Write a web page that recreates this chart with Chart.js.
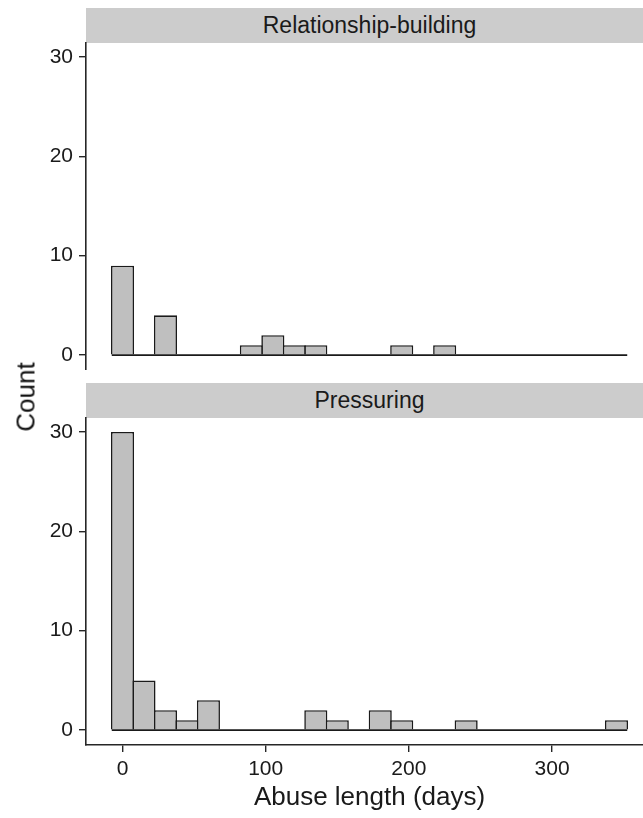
<!DOCTYPE html>
<html>
<head>
<meta charset="utf-8">
<script src="https://cdn.jsdelivr.net/npm/chart.js@4.4.1/dist/chart.umd.min.js"></script>
<style>
  html, body { margin: 0; padding: 0; background: #fff; overflow: hidden; }
  #wrap { position: relative; width: 643px; height: 818px; overflow: hidden; background: #fff; }
  .strip {
    position: absolute; left: 86px; width: 567px; background: #cccccc; color: #1a1a1a;
    font-family: "Liberation Sans", Arial, sans-serif; font-size: 23px;
    display: flex; align-items: center; justify-content: center;
  }
  canvas { position: absolute; left: 0; }
  #ylab {
    position: absolute; left: 26px; top: 397px; transform: translate(-50%, -50%) rotate(-90deg);
    font-family: "Liberation Sans", Arial, sans-serif; font-size: 26px; color: #111; white-space: nowrap;
  }
</style>
</head>
<body>
<div id="wrap">
  <div class="strip" style="top:8px;height:35px;">Relationship-building</div>
  <canvas id="top" width="653" height="328" style="top:42px;width:653px;height:328px;"></canvas>
  <div class="strip" style="top:383px;height:35px;">Pressuring</div>
  <canvas id="bottom" width="653" height="401" style="top:417px;width:653px;height:401px;"></canvas>
  <div id="ylab">Count</div>
</div>
<script>
// histogram bins (centre, days), bin width 15
const binCenters = [0, 15, 30, 45, 60, 75, 90, 105, 120, 135, 150, 165,
                    180, 195, 210, 225, 240, 255, 270, 285, 300, 315, 330, 345];
const binWidth = 15;
const relationshipCounts = [9, 0, 4, 0, 0, 0, 1, 2, 1, 1, 0, 0, 0, 1, 0, 1, 0, 0, 0, 0, 0, 0, 0, 0];
const pressuringCounts = [30, 5, 2, 1, 3, 0, 0, 0, 0, 2, 1, 0, 2, 1, 0, 0, 1, 0, 0, 0, 0, 0, 0, 1];
const xTicks = [0, 100, 200, 300];
const yTicks = [0, 10, 20, 30];

const FONT = '"Liberation Sans", Arial, sans-serif';
const INK = '#1a1a1a';
const AXIS = '#262626';

// ggplot draws the empty bins as a flat outline along zero
const baseline = {
  id: 'baseline',
  afterDatasetsDraw(chart) {
    const x = chart.scales.x, y = chart.scales.y;
    const ctx = chart.ctx;
    const y0 = y.getPixelForValue(0);
    ctx.save();
    ctx.strokeStyle = INK;
    ctx.lineWidth = 1.6;
    ctx.beginPath();
    ctx.moveTo(x.getPixelForValue(binCenters[0] - binWidth / 2), y0);
    ctx.lineTo(x.getPixelForValue(binCenters[binCenters.length - 1] + binWidth / 2), y0);
    ctx.stroke();
    ctx.restore();
  }
};

function makeChart(id, counts, showX) {
  const ctx = document.getElementById(id).getContext('2d');
  return new Chart(ctx, {
    type: 'bar',
    data: {
      datasets: [{
        data: binCenters.map((c, i) => ({ x: c, y: counts[i] })),
        backgroundColor: '#bfbfbf',
        borderColor: INK,
        borderWidth: 1.6,
        barPercentage: 1.075,
        categoryPercentage: 1,
      }]
    },
    options: {
      responsive: false,
      animation: false,
      devicePixelRatio: 1,
      layout: { padding: 0 },
      plugins: {
        legend: { display: false },
        tooltip: { enabled: false },
      },
      scales: {
        x: {
          type: 'linear',
          display: showX,
          offset: false,
          min: -25.5,
          max: 370.5,
          afterBuildTicks: (s) => { s.ticks = xTicks.map(v => ({ value: v })); },
          afterFit: (s) => {
            if (showX) s.height = 73;
            s.paddingLeft = 0;
            s.paddingRight = 0;
          },
          grid: { offset: false, drawOnChartArea: false, drawTicks: true, tickLength: 7, color: AXIS, lineWidth: 1.4 },
          border: { display: true, color: AXIS, width: 1.6 },
          ticks: { color: INK, padding: 5, maxRotation: 0, font: { family: FONT, size: 21 } },
          title: {
            display: true,
            text: 'Abuse length (days)',
            color: INK,
            padding: { top: 0, bottom: 5 },
            font: { family: FONT, size: 26, lineHeight: 1.2 }
          }
        },
        y: {
          min: -1.5,
          max: 31.5,
          afterBuildTicks: (s) => { s.ticks = yTicks.map(v => ({ value: v })); },
          afterFit: (s) => { s.width = 86; s.paddingTop = 0; s.paddingBottom = 0; },
          grid: { drawOnChartArea: false, drawTicks: true, tickLength: 7, color: AXIS, lineWidth: 1.4 },
          border: { display: true, color: AXIS, width: 1.6 },
          ticks: { color: INK, padding: 6, font: { family: FONT, size: 21 } }
        }
      }
    },
    plugins: [baseline]
  });
}

makeChart('top', relationshipCounts, false);
makeChart('bottom', pressuringCounts, true);
</script>
</body>
</html>
